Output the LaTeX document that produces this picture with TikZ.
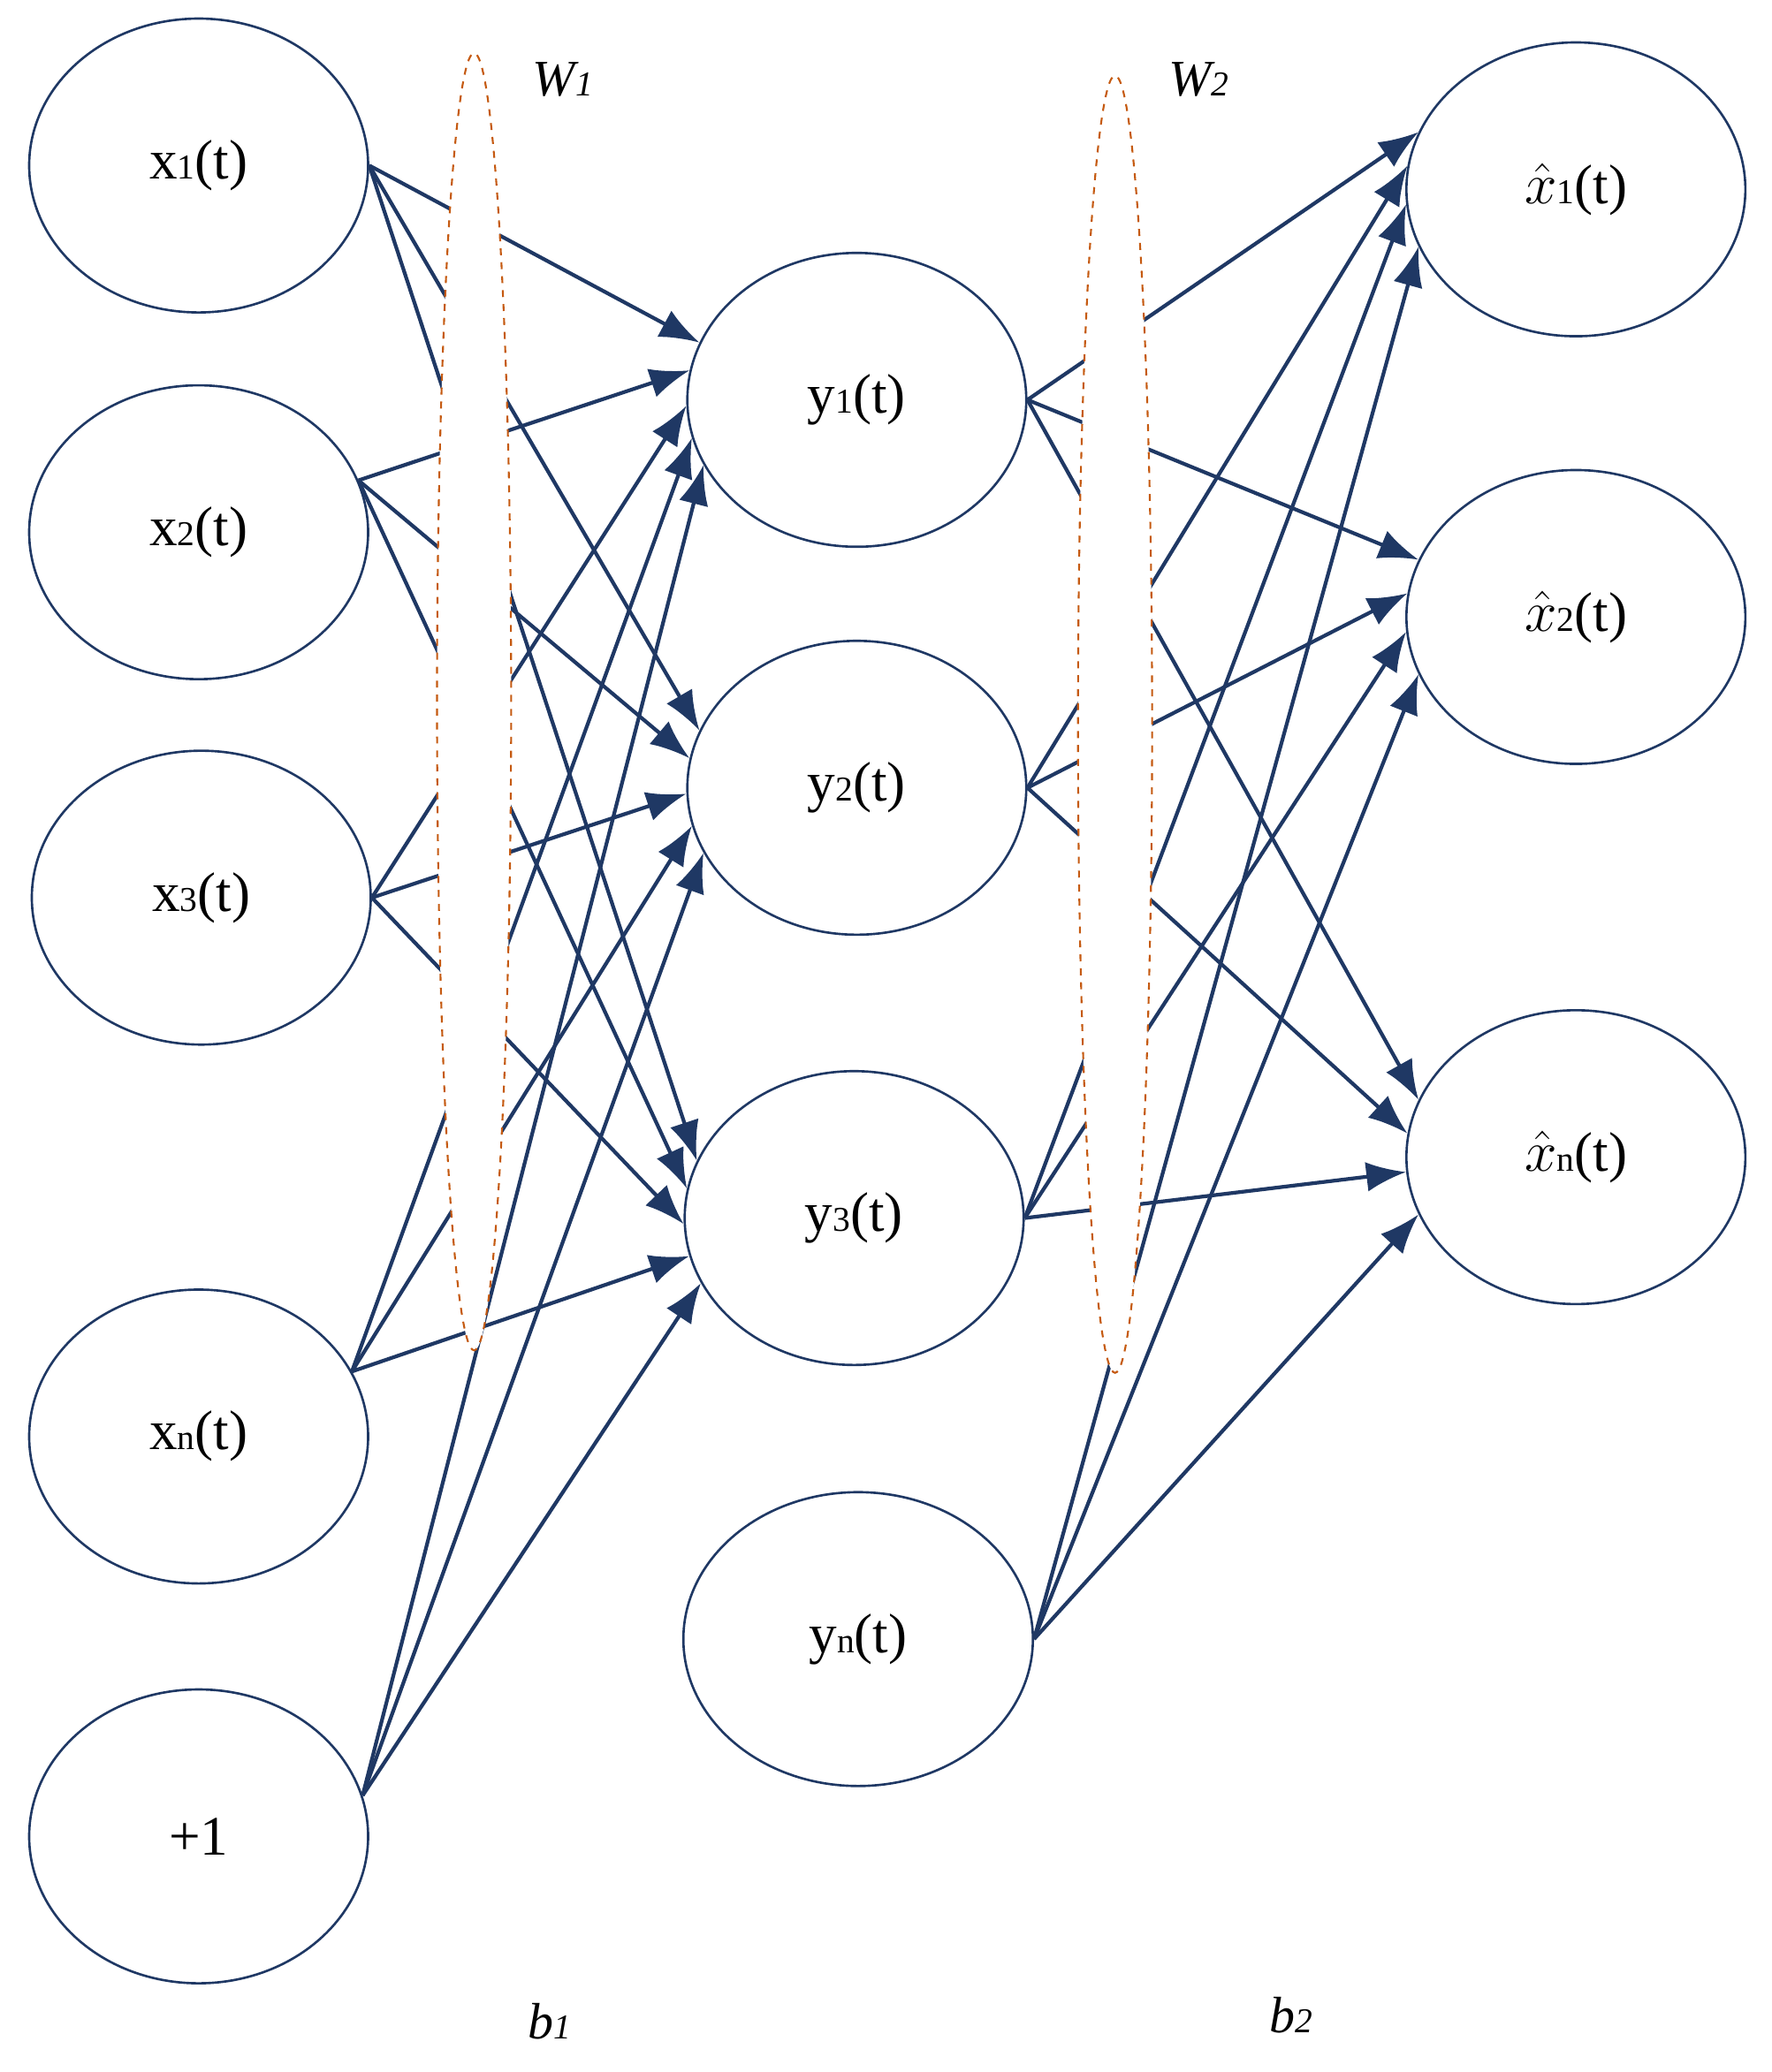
\documentclass[tikz,border=0pt]{standalone}
\usepackage{fontspec}
\setmainfont{Liberation Serif}
\usetikzlibrary{arrows.meta,shapes.geometric}
\definecolor{navy}{HTML}{1F3864}
\definecolor{orng}{HTML}{C55A11}
\newcommand{\mysb}[1]{{\fontsize{15}{18}\selectfont #1}}
\begin{document}
\begin{tikzpicture}[x=0.02cm,y=-0.02cm,
 neu/.style={ellipse,draw=navy,line width=1pt,minimum width=5.12cm,minimum height=4.44cm,inner sep=0pt,font=\fontsize{24}{28}\selectfont},
 con/.style={draw=navy,line width=1.6pt,-{Latex[length=6mm,width=4.5mm]}},
 grp/.style={ellipse,draw=orng,dashed,fill=white,line width=0.8pt,minimum width=1.12cm,inner sep=0pt},
 lab/.style={font=\itshape\fontsize{22}{26}\selectfont}]
\useasboundingbox (0,0) rectangle (1338,1565);
\node[neu] (x1) at (150,125) {x\mysb{1}(t)};
\node[neu] (x2) at (150,402) {x\mysb{2}(t)};
\node[neu] (x3) at (152,678) {x\mysb{3}(t)};
\node[neu] (xn) at (150,1085) {x\mysb{n}(t)};
\node[neu] (b) at (150,1387) {+1};
\node[neu] (y1) at (647,302) {y\mysb{1}(t)};
\node[neu] (y2) at (647,595) {y\mysb{2}(t)};
\node[neu] (y3) at (645,920) {y\mysb{3}(t)};
\node[neu,minimum width=5.28cm] (yn) at (648,1238) {y\mysb{n}(t)};
\node[neu] (h1) at (1190,143) {$\hat{x}$\mysb{1}(t)};
\node[neu] (h2) at (1190,466) {$\hat{x}$\mysb{2}(t)};
\node[neu] (hn) at (1190,874) {$\hat{x}$\mysb{n}(t)};
\foreach \s/\a/\t in {x1.east/160,x2.18/170,x3.east/182,xn.23/193,b.14/203}
  \foreach \t in {y1,y2,y3} \draw[con] (\s) -- (\t.\a);
\foreach \s/\a in {y1.east/160,y2.east/172,y3.east/185,yn.east/200}
  \foreach \t in {h1,h2,hn} \draw[con] (\s) -- (\t.\a);
\node[grp,minimum height=19.6cm] (g1) at (358,530) {};
\node[grp,minimum height=19.6cm] (g2) at (842,547) {};
\node[lab] (w1) at (425,60) {W\mysb{1}};
\node[lab] (w2) at (905,60) {W\mysb{2}};
\node[lab] (bb1) at (415,1527) {b\mysb{1}};
\node[lab] (bb2) at (975,1522) {b\mysb{2}};
\end{tikzpicture}
\end{document}
